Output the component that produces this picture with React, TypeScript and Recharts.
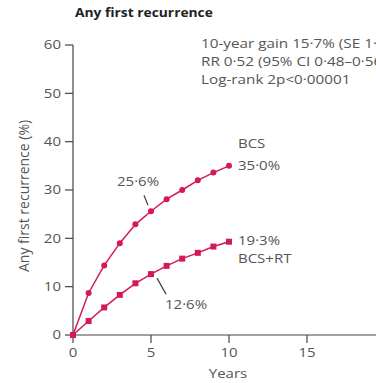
import React from "react";
import { LineChart, Line, XAxis, YAxis, LabelList } from "recharts";

const years = [0, 1, 2, 3, 4, 5, 6, 7, 8, 9, 10];
const bcs = [0, 8.7, 14.4, 19.0, 22.9, 25.6, 28.1, 30.0, 32.0, 33.6, 35.0];
const bcsRt = [0, 2.9, 5.7, 8.3, 10.7, 12.6, 14.3, 15.8, 17.0, 18.3, 19.3];
const xTicks = [0, 5, 10, 15];
const yTicks = [0, 10, 20, 30, 40, 50, 60];
const statLines = [
  "10-year gain 15·7% (SE 1·0)",
  "RR 0·52 (95% CI 0·48–0·56)",
  "Log-rank 2p<0·00001",
];
const bcsLabels: Record<number, string[]> = { 5: ["25·6%"], 10: ["35·0%", "BCS"] };
const rtLabels: Record<number, string[]> = { 5: ["12·6%"], 10: ["19·3%", "BCS+RT"] };

const data = years.map((y, i) => ({ year: y, bcs: bcs[i], rt: bcsRt[i] }));

const RED = "#d4185a";
const GREY = "#555";
const FONT = "'Open Sans', sans-serif";
const FS = 12.5;
const SX = 1.2;

const T = ({ x, y, anchor = "start", dy = "0.355em", children }: any) => (
  <g transform={`translate(${x},${y})`}>
    <text transform={`scale(${SX},1)`} textAnchor={anchor} dy={dy} fontFamily={FONT} fontSize={FS} fill={GREY}>
      {children}
    </text>
  </g>
);

const XTick = (props: any) => {
  const { x, y, payload } = props;
  return <T x={x} y={y} anchor="middle" dy="0.71em">{payload.value}</T>;
};

const YTick = (props: any) => {
  const { x, y, payload } = props;
  return <T x={x} y={y} anchor="end">{payload.value}</T>;
};

const Square = (props: any) => {
  const { cx, cy } = props;
  if (cx == null || cy == null) return null;
  return <rect x={cx - 3} y={cy - 3} width={6} height={6} fill={RED} />;
};

const bcsLabel = (props: any) => {
  const { x, y, index } = props;
  const l = bcsLabels[index];
  if (!l) return null;
  if (index === 10) {
    return (
      <g>
        <T x={x + 9} y={y}>{l[0]}</T>
        <T x={x + 9} y={y - 22}>{l[1]}</T>
      </g>
    );
  }
  return (
    <g>
      <T x={x - 13} y={y - 30} anchor="middle">{l[0]}</T>
      <line x1={x - 7} y1={y - 16} x2={x - 3} y2={y - 6} stroke="#444" strokeWidth={1.2} />
    </g>
  );
};

const rtLabel = (props: any) => {
  const { x, y, index } = props;
  const l = rtLabels[index];
  if (!l) return null;
  if (index === 10) {
    return (
      <g>
        <T x={x + 9} y={y - 1}>{l[0]}</T>
        <T x={x + 9} y={y + 17}>{l[1]}</T>
      </g>
    );
  }
  return (
    <g>
      <T x={x + 14} y={y + 30}>{l[0]}</T>
      <line x1={x + 6} y1={y + 4} x2={x + 15} y2={y + 20} stroke="#444" strokeWidth={1.2} />
    </g>
  );
};

const YearsLabel = (props: any) => {
  const vb = props.viewBox || {};
  const cx = vb.x + 155;
  return <T x={cx} y={374} anchor="middle">Years</T>;
};

export default function App() {
  return (
    <div style={{ position: "absolute", left: 0, top: 0, width: 376, height: 383, overflow: "hidden", background: "#fff", fontFamily: FONT }}>
      <div style={{ position: "absolute", left: 75, top: 5, fontSize: 11.5, fontWeight: 700, color: "#222", whiteSpace: "nowrap", transform: `scaleX(${SX})`, transformOrigin: "left top" }}>
        Any first recurrence
      </div>
      <div style={{ position: "absolute", left: 201, top: 35, fontSize: FS, lineHeight: "18px", color: GREY, whiteSpace: "nowrap", transform: `scaleX(1.22)`, transformOrigin: "left top" }}>
        {statLines.map((s) => (
          <div key={s}>{s}</div>
        ))}
      </div>
      <LineChart width={400} height={383} data={data} margin={{ top: 45, right: 15, bottom: 0, left: 0 }}>
        <XAxis
          dataKey="year"
          type="number"
          domain={[0, 20]}
          ticks={xTicks}
          tickSize={8}
          tickMargin={5}
          stroke="#444"
          strokeWidth={1.2}
          height={48}
          tick={<XTick />}
          label={<YearsLabel />}
        />
        <YAxis
          type="number"
          domain={[0, 60]}
          ticks={yTicks}
          tickSize={8}
          tickMargin={4}
          stroke="#444"
          strokeWidth={1.2}
          width={73}
          tick={<YTick />}
          label={{ value: "Any first recurrence (%)", angle: -90, position: "insideLeft", offset: 24, fill: GREY, fontSize: 14, fontFamily: FONT, dy: 82 }}
        />
        <Line
          dataKey="bcs"
          stroke={RED}
          strokeWidth={1.5}
          dot={{ r: 3, fill: RED, stroke: "none" }}
          isAnimationActive={false}
        >
          <LabelList dataKey="bcs" content={bcsLabel} />
        </Line>
        <Line
          dataKey="rt"
          stroke={RED}
          strokeWidth={1.5}
          dot={<Square />}
          isAnimationActive={false}
        >
          <LabelList dataKey="rt" content={rtLabel} />
        </Line>
      </LineChart>
    </div>
  );
}
